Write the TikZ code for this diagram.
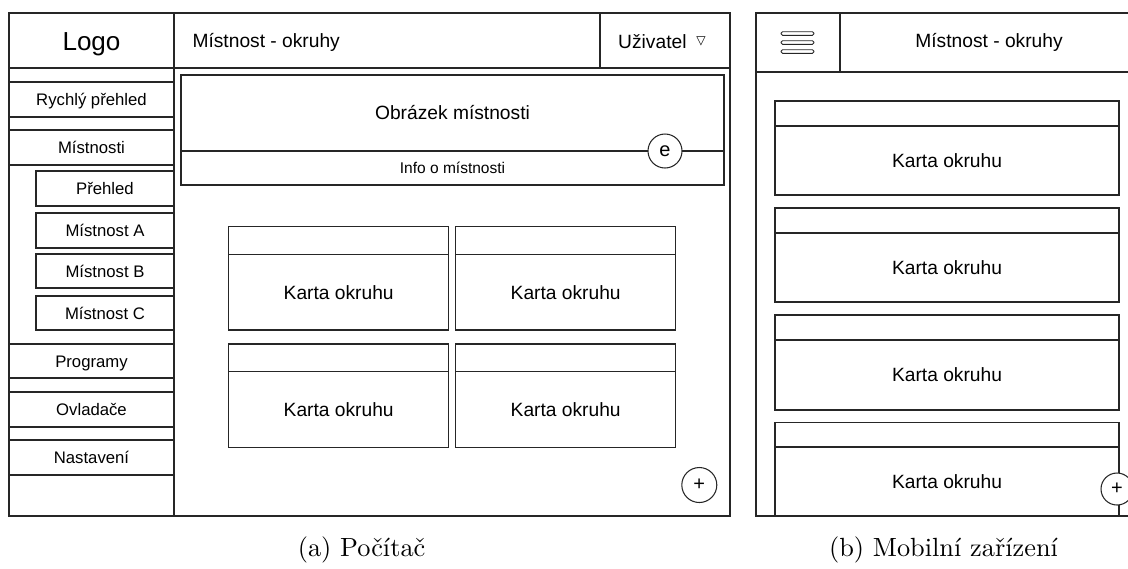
\documentclass[tikz,border=0pt]{standalone}
\usepackage{fontspec}
\setsansfont{Liberation Sans}
\newfontfamily\symfont{DejaVu Sans}
\begin{document}
\begin{tikzpicture}[x=0.38pt,y=-0.38pt,
  frame/.style={draw=black!85, line width=0.4pt},
  lbl/.style={font=\sffamily\fontsize{7.3}{8}\selectfont, inner sep=0pt,
              text height=5.23pt, text depth=0pt},
  sidelbl/.style={font=\sffamily\fontsize{6.35}{7}\selectfont, inner sep=0pt,
              text height=4.55pt, text depth=0pt},
  logolbl/.style={font=\sffamily\fontsize{9.9}{11}\selectfont, inner sep=0pt,
              text height=7.09pt, text depth=0pt},
  infolbl/.style={font=\sffamily\fontsize{5.9}{7}\selectfont, inner sep=0pt,
              text height=4.22pt, text depth=0pt},
  btn/.style={circle, draw=black!85, fill=white, line width=0.4pt, inner sep=0pt,
              font=\sffamily\fontsize{7.6}{8}\selectfont},
  caption/.style={font=\rmfamily\fontsize{10}{12}\selectfont, inner sep=0pt},
  burger/.style={draw=black!85, line width=0.35pt, rounded corners=0.6pt}
]
\useasboundingbox (0,0) rectangle (1128,568);
\clip (0,0) rectangle (1128,568);

% ---------- desktop layout ----------
\draw[frame] (9,13) rectangle (730,516);
\draw[frame] (9,68) -- (730,68);
\draw[frame] (174,13) -- (174,516);
\draw[frame] (600,13) -- (600,68);
\node[logolbl] (logo) at (91.5,41.3) {Logo};
\node[lbl, anchor=west] (title) at (192,40.5) {Místnost - okruhy};
\node[lbl, anchor=west] (user) at (617.7,42) {Uživatel};
\node[font=\symfont\fontsize{4.6}{5}\selectfont, inner sep=0pt] (usermenu) at (701,41) {▽};

% sidebar menu
\foreach \name/\top/\bot/\txt in {quick/82/117/Rychlý přehled,
    rooms/130/165/Místnosti, programs/344/378/Programy,
    controls/392/427/Ovladače, settings/440/475/Nastavení}{
  \draw[frame] (9,\top) rectangle (174,\bot);
  \node[sidelbl] (\name) at (91.5,{(\top+\bot)/2}) {\txt};
}
\foreach \name/\top/\bot/\txt in {overview/171/206/Přehled,
    roomA/213/248/Místnost A, roomB/254/288/Místnost B,
    roomC/296/330/Místnost C}{
  \draw[frame] (36,\top) rectangle (174,\bot);
  \node[sidelbl] (\name) at (105,{(\top+\bot)/2}) {\txt};
}

% room banner
\draw[frame] (181,75) rectangle (724,185);
\draw[frame] (181,151) -- (724,151);
\node[lbl] (roomimg) at (452.5,113) {Obrázek místnosti};
\node[infolbl] (roominfo) at (452.5,168) {Info o místnosti};
\node[btn, minimum size=34*0.38pt] (edit) at (665,151) {e};

% circuit cards
\foreach \name/\l/\r/\t/\m/\b in {cardA/228.7/448.7/226.7/254.3/330,
    cardB/455.7/675.7/226.7/254.3/330,
    cardC/228.7/448.7/344/371.7/447.3,
    cardD/455.7/675.7/344/371.7/447.3}{
  \draw[frame] (\l,\t) rectangle (\r,\b);
  \draw[frame] (\l,\m) -- (\r,\m);
  \node[lbl] (\name) at ({(\l+\r)/2},{(\m+\b)/2}) {Karta okruhu};
}
\node[btn, minimum size=35*0.38pt] (add) at (699.3,485) {+};

% ---------- mobile layout ----------
\draw[frame] (756,13) rectangle (1138,516);
\draw[frame] (756,72) -- (1138,72);
\draw[frame] (840,13) -- (840,72);
\foreach \yy in {33.5,42.5,51.5}{
  \draw[burger] (781,\yy-1.8) rectangle (814,\yy+1.8);
}
\coordinate (menu) at (797.5,42.5);
\node[lbl] (mtitle) at (989,40.5) {Místnost - okruhy};

\foreach \name/\t/\m/\b in {mcardA/101/126/195, mcardB/208/233/302,
    mcardC/315/340/410, mcardD/422.7/447/516}{
  \draw[frame] (775,\t) rectangle (1119,\b);
  \draw[frame] (775,\m) -- (1119,\m);
  \node[lbl] (\name) at (947,{(\m+\b)/2}) {Karta okruhu};
}
\node[btn, minimum size=32*0.38pt] (madd) at (1117,489) {+};

% ---------- captions ----------
\node[caption] (capa) at (361.6,550) {(a) Počítač};
\node[caption] (capb) at (943.5,550) {(b) Mobilní zařízení};
\end{tikzpicture}
\end{document}
